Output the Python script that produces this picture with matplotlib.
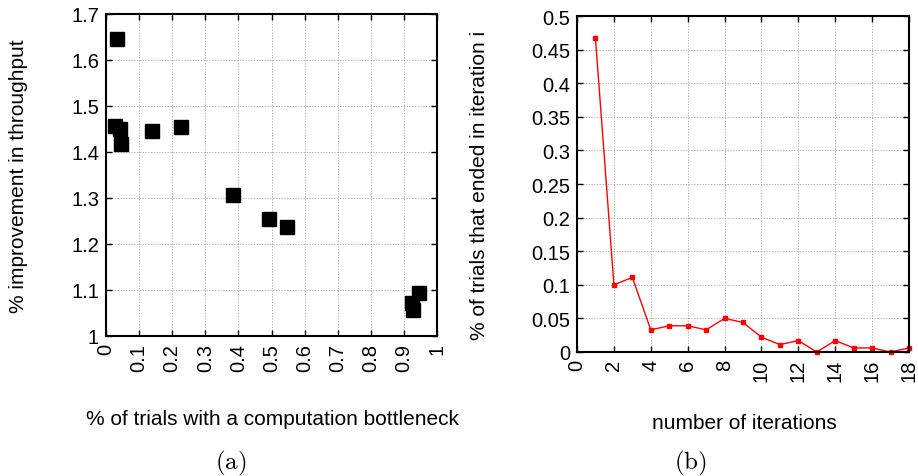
import matplotlib
matplotlib.use("Agg")
import matplotlib.pyplot as plt

# (a) scatter: fraction of trials with computation bottleneck vs improvement
bottleneck = [0.032, 0.027, 0.042, 0.044, 0.138, 0.226, 0.385, 0.493, 0.546, 0.923, 0.926, 0.947]
improvement = [1.646, 1.457, 1.450, 1.417, 1.446, 1.455, 1.307, 1.254, 1.238, 1.072, 1.057, 1.093]

# (b) fraction of trials ending in iteration i
iterations = list(range(1, 19))
ended = [0.467, 0.100, 0.111, 0.033, 0.039, 0.039, 0.033, 0.050, 0.044,
         0.022, 0.011, 0.017, 0.000, 0.017, 0.006, 0.006, 0.000, 0.006]

plt.rcParams['font.family'] = ['Liberation Sans', 'DejaVu Sans']
plt.rcParams['mathtext.fontset'] = 'cm'

W, H = 918, 477
fig = plt.figure(figsize=(W / 100, H / 100), dpi=100)


def px_axes(x0, y0, x1, y1):
    return fig.add_axes([x0 / W, 1 - y1 / H, (x1 - x0) / W, (y1 - y0) / H])


def style(ax):
    ax.grid(True, linestyle=(0, (2, 2)), color='#999999', linewidth=0.5)
    ax.set_axisbelow(True)
    ax.tick_params(direction='in', length=4, width=1, top=True, right=True,
                   labelsize=14.5, pad=5)
    for lab in ax.get_xticklabels():
        lab.set_rotation(90)
    for s in ax.spines.values():
        s.set_linewidth(1.5)


ax1 = px_axes(106, 15, 437, 337)
ax1.plot(bottleneck, improvement, 's', color='black', markersize=10, clip_on=False)
ax1.set_xlim(0, 1)
ax1.set_ylim(1, 1.7)
ax1.set_xticks([i / 10 for i in range(11)])
ax1.set_xticklabels(['0', '0.1', '0.2', '0.3', '0.4', '0.5', '0.6', '0.7', '0.8', '0.9', '1'])
ax1.set_yticks([1 + i / 10 for i in range(8)])
ax1.set_yticklabels(['1', '1.1', '1.2', '1.3', '1.4', '1.5', '1.6', '1.7'])
style(ax1)
ax1.set_ylabel('% improvement in throughput', fontsize=15)
ax1.yaxis.set_label_coords(-0.235, 0.5)

ax2 = px_axes(577, 17, 909, 353)
ax2.plot(iterations, ended, '-s', color='red', linewidth=1, markersize=2.5, clip_on=False)
ax2.set_xlim(0, 18)
ax2.set_ylim(0, 0.5)
ax2.set_xticks(range(0, 19, 2))
ax2.set_yticks([i * 0.05 for i in range(11)])
ax2.set_yticklabels(['0', '0.05', '0.1', '0.15', '0.2', '0.25', '0.3', '0.35', '0.4', '0.45', '0.5'])
style(ax2)
ax2.set_ylabel('% of trials that ended in iteration i', fontsize=15)
ax2.yaxis.set_label_coords(-0.265, 0.5)

fig.text(272 / W, 1 - 420 / H, '% of trials with a computation bottleneck', fontsize=15,
         ha='center', va='center')
fig.text(744 / W, 1 - 424 / H, 'number of iterations', fontsize=15, ha='center', va='center')
fig.text(231 / W, 1 - 463 / H, r'$\mathrm{(a)}$', fontsize=18, ha='center', va='center')
fig.text(690 / W, 1 - 463 / H, r'$\mathrm{(b)}$', fontsize=18, ha='center', va='center')

fig.savefig('out.png', dpi=100)
